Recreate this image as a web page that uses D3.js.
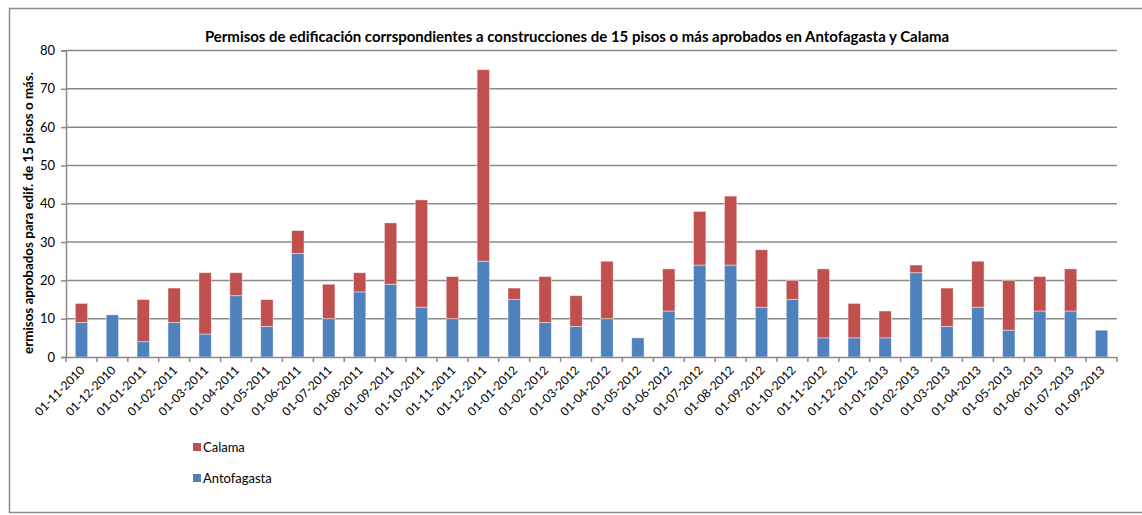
<!DOCTYPE html>
<html>
<head>
<meta charset="utf-8">
<script src="https://cdn.jsdelivr.net/npm/d3@7"></script>
<style>
  html, body { margin: 0; padding: 0; background: #fff; }
  svg { display: block; }
  text { font-family: Lato, "Open Sans", "DejaVu Sans", sans-serif; fill: #000; }
</style>
</head>
<body>
<svg id="chart" width="1142" height="515"></svg>
<script>
const categories = ["01-11-2010","01-12-2010","01-01-2011","01-02-2011","01-03-2011","01-04-2011","01-05-2011","01-06-2011","01-07-2011","01-08-2011","01-09-2011","01-10-2011","01-11-2011","01-12-2011","01-01-2012","01-02-2012","01-03-2012","01-04-2012","01-05-2012","01-06-2012","01-07-2012","01-08-2012","01-09-2012","01-10-2012","01-11-2012","01-12-2012","01-01-2013","01-02-2013","01-03-2013","01-04-2013","01-05-2013","01-06-2013","01-07-2013","01-09-2013"];
const antofagasta = [9,11,4,9,6,16,8,27,10,17,19,13,10,25,15,9,8,10,5,12,24,24,13,15,5,5,5,22,8,13,7,12,12,7];
const calama      = [5,0,11,9,16,6,7,6,9,5,16,28,11,50,3,12,8,15,0,11,14,18,15,5,18,9,7,2,10,12,13,9,11,0];
const yTicks = [0,10,20,30,40,50,60,70,80];
const seriesNames = ["Antofagasta","Calama"];
const colors = {"Antofagasta":"#4F81BD","Calama":"#C0504D"};
const titleText = "Permisos de edificación corrspondientes a construcciones de 15 pisos o más aprobados en Antofagasta y Calama";
const yLabel = "ermisos aprobados para edif. de 15 pisos o más.";

const svg = d3.select("#chart");
const pLeft = 66, pRight = 1117, pTop = 50.5, pBottom = 357;

// outer border
svg.append("rect").attr("x", 9.5).attr("y", 8.5).attr("width", 1150).attr("height", 504)
  .attr("fill", "none").attr("stroke", "#8c8c8c").attr("stroke-width", 1.5);

const x = d3.scaleBand().domain(categories).range([pLeft, pRight]).paddingInner(0.6).paddingOuter(0.3);
const y = d3.scaleLinear().domain([0, 80]).range([pBottom, pTop]);

// gridlines
svg.append("g").selectAll("line").data(yTicks.filter(d => d > 0)).join("line")
  .attr("x1", pLeft).attr("x2", pRight)
  .attr("y1", d => y(d)).attr("y2", d => y(d))
  .attr("stroke", "#8a8a8a").attr("stroke-width", 1.5);

// stacked bars
const rows = categories.map((c, i) => ({cat: c, Antofagasta: antofagasta[i], Calama: calama[i]}));
const stack = d3.stack().keys(seriesNames)(rows);
svg.append("g").selectAll("g").data(stack).join("g")
  .attr("fill", d => colors[d.key])
  .selectAll("rect").data(d => d.filter(s => s[1] - s[0] > 0)).join("rect")
  .attr("x", d => x(d.data.cat))
  .attr("width", x.bandwidth())
  .attr("y", d => y(d[1]))
  .attr("height", d => y(d[0]) - y(d[1]))
  .attr("stroke", "rgba(255,255,255,0.55)").attr("stroke-width", 0.8);

// y axis
const yAxis = d3.axisLeft(y).tickValues(yTicks).tickSize(5).tickPadding(6);
const gy = svg.append("g").attr("transform", `translate(${pLeft},0)`).call(yAxis);
gy.select(".domain").attr("stroke", "#8a8a8a").attr("stroke-width", 1.5);
gy.selectAll(".tick line").attr("stroke", "#8a8a8a").attr("stroke-width", 1.5);
gy.selectAll("text").attr("font-size", 13).attr("font-family", "Lato, 'Open Sans', sans-serif");

// x axis
const xAxis = d3.axisBottom(x).tickSize(0).tickPadding(0);
const gx = svg.append("g").attr("transform", `translate(0,${pBottom})`).call(xAxis);
gx.select(".domain").attr("stroke", "#8a8a8a").attr("stroke-width", 1.5);
gx.selectAll(".tick text")
  .attr("font-size", 12).attr("font-family", "Lato, 'Open Sans', sans-serif")
  .attr("text-anchor", "end").attr("dy", null).attr("y", 0)
  .attr("transform", "translate(4,14) rotate(-45)");
// category boundary ticks
const bounds = d3.range(categories.length + 1).map(i => pLeft + i * (pRight - pLeft) / categories.length);
svg.append("g").selectAll("line").data(bounds).join("line")
  .attr("x1", d => d).attr("x2", d => d).attr("y1", pBottom).attr("y2", pBottom + 5)
  .attr("stroke", "#8a8a8a").attr("stroke-width", 1.5);

// title
const t = svg.append("text").attr("x", 577).attr("y", 42).attr("text-anchor", "middle")
  .attr("font-weight", "bold").attr("font-size", 14).text(titleText);
const tw = t.node().getComputedTextLength();
t.attr("font-size", 14 * 745 / tw);

// y label
const yl = svg.append("text").attr("transform", "translate(33,213) rotate(-90)")
  .attr("text-anchor", "middle").attr("font-weight", "bold").attr("font-size", 13).text(yLabel);
const yw = yl.node().getComputedTextLength();
yl.attr("font-size", 13 * 282 / yw);

// legend
const legend = svg.append("g");
const legendItems = ["Calama", "Antofagasta"];
legendItems.forEach((name, i) => {
  const ly = 447 + i * 31;
  legend.append("rect").attr("x", 193).attr("y", ly - 4).attr("width", 8).attr("height", 8).attr("fill", colors[name]);
  legend.append("text").attr("x", 203).attr("y", ly + 4.5).attr("font-size", 13).text(name);
});
</script>
</body>
</html>
